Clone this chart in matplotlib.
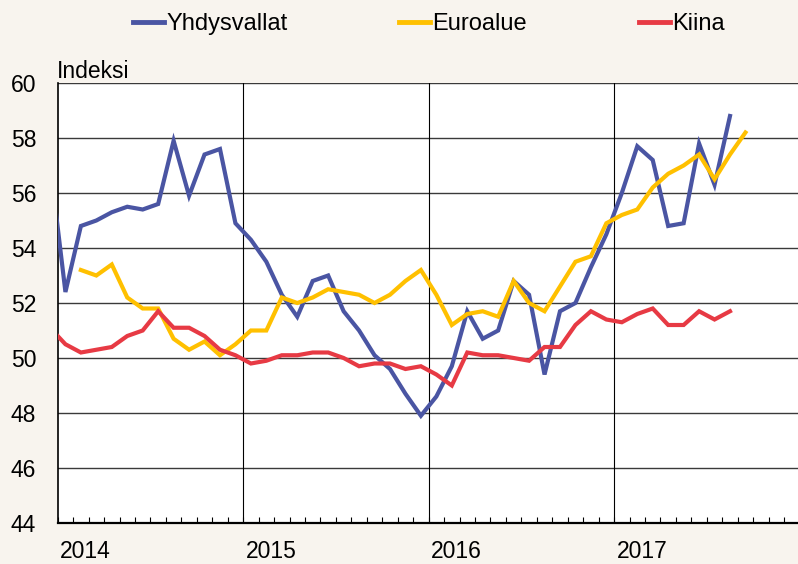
import matplotlib
matplotlib.use("Agg")
import matplotlib.pyplot as plt
from matplotlib.lines import Line2D
import numpy as np

plt.rcParams['font.family'] = ['Liberation Sans', 'DejaVu Sans']

# Monthly index values; first US/China value is December 2013 (clipped by the axis)
us_start = -1  # month index of first value (Dec 2013)
us = [57.1,
      52.4, 54.8, 55.0, 55.3, 55.5, 55.4, 55.6, 57.9, 55.9, 57.4, 57.6, 54.9,
      54.3, 53.5, 52.3, 51.5, 52.8, 53.0, 51.7, 51.0, 50.1, 49.6, 48.7, 47.9,
      48.6, 49.7, 51.7, 50.7, 51.0, 52.8, 52.3, 49.4, 51.7, 52.0, 53.3, 54.5,
      56.0, 57.7, 57.2, 54.8, 54.9, 57.8, 56.3, 58.8]

euro_start = 1  # February 2014
euro = [53.2, 53.0, 53.4, 52.2, 51.8, 51.8, 50.7, 50.3, 50.6, 50.1, 50.5,
        51.0, 51.0, 52.2, 52.0, 52.2, 52.5, 52.4, 52.3, 52.0, 52.3, 52.8, 53.2,
        52.3, 51.2, 51.6, 51.7, 51.5, 52.8, 52.0, 51.7, 52.6, 53.5, 53.7, 54.9,
        55.2, 55.4, 56.2, 56.7, 57.0, 57.4, 56.5, 57.4, 58.2]

china_start = -1  # December 2013
china = [51.1,
         50.5, 50.2, 50.3, 50.4, 50.8, 51.0, 51.7, 51.1, 51.1, 50.8, 50.3, 50.1,
         49.8, 49.9, 50.1, 50.1, 50.2, 50.2, 50.0, 49.7, 49.8, 49.8, 49.6, 49.7,
         49.4, 49.0, 50.2, 50.1, 50.1, 50.0, 49.9, 50.4, 50.4, 51.2, 51.7, 51.4,
         51.3, 51.6, 51.8, 51.2, 51.2, 51.7, 51.4, 51.7]

years = ['2014', '2015', '2016', '2017']
series_names = ['Yhdysvallat', 'Euroalue', 'Kiina']
colors = ['#4A55A3', '#FFC000', '#E73A44']

bg = '#F8F4EE'
W, H = 798, 564
fig = plt.figure(figsize=(W / 100, H / 100), dpi=100, facecolor=bg)
ax = fig.add_axes([57.7 / W, 1 - 523 / H, 1 - 57.7 / W, 440 / H])
ax.set_facecolor('white')

xmax = 47.9
ax.set_xlim(0, xmax)
ax.set_ylim(44, 60)

# grid
for v in range(44, 61, 2):
    ax.axhline(v, color='#3a3a3a', lw=1.0, zorder=1)
for k in range(1, len(years)):
    ax.axvline(12 * k, color='black', lw=0.8, zorder=1)

for start, vals, c in zip([us_start, euro_start, china_start], [us, euro, china], colors):
    x = np.arange(len(vals)) + start + 0.5
    ax.plot(x, vals, color=c, lw=3.0, solid_joinstyle='miter', zorder=3)

for s in ['top', 'right']:
    ax.spines[s].set_visible(False)
ax.spines['left'].set_linewidth(1.2)
ax.spines['bottom'].set_linewidth(1.6)

ax.set_yticks(range(44, 61, 2))
ax.set_yticklabels([str(v) for v in range(44, 61, 2)], fontsize=16.5)
ax.tick_params(axis='y', length=0, pad=15.5)

ax.set_xticks(np.arange(0, 48, 1))
ax.set_xticklabels([])
ax.tick_params(axis='x', direction='in', length=4, width=0.8, color='black')

for k, lab in enumerate(years):
    ax.text(12 * k + 0.15, -0.064, lab, transform=ax.get_xaxis_transform(),
            ha='left', va='center', fontsize=16.5)

fig.text(57 / W, 1 - 72 / H, 'Indeksi', ha='left', va='center', fontsize=16.5)

handles = [Line2D([0], [0], color=c, lw=3.5) for c in colors]
fig.legend(handles, series_names, loc='center', bbox_to_anchor=(429 / W, 1 - 24 / H),
           ncol=3, frameon=False, fontsize=17, handlelength=1.3,
           handletextpad=0.1, columnspacing=4.75, borderaxespad=0, borderpad=0)

fig.savefig('out.png', dpi=100, facecolor=bg)
